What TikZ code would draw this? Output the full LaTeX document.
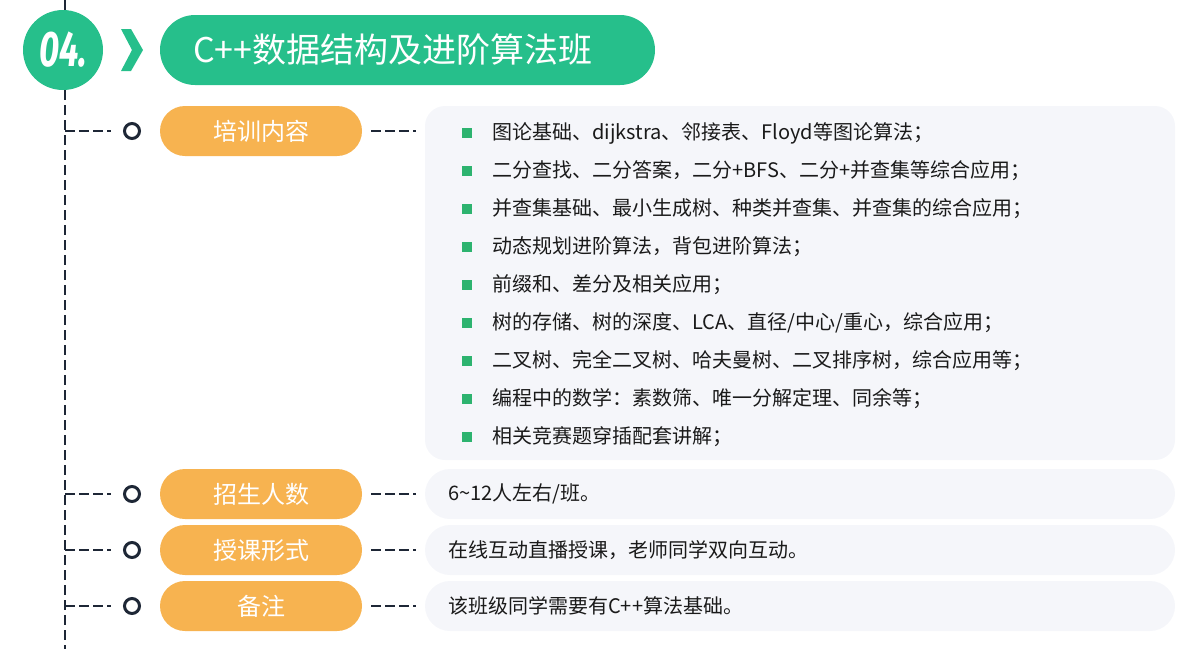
\documentclass[tikz,border=0pt]{standalone}
\usepackage{fontspec}
\usepackage{tikz}
\setmainfont{Noto Sans CJK SC}
\newfontfamily\numfont{Fira Sans}
\usetikzlibrary{positioning}

\definecolor{mintgreen}{HTML}{26BF8B}
\definecolor{tagorange}{HTML}{F7B350}
\definecolor{boxgray}{HTML}{F5F6FA}
\definecolor{inkdark}{HTML}{1E2736}
\definecolor{bulletgreen}{HTML}{2DB36F}
\definecolor{textdark}{HTML}{1A1A1A}

\begin{document}
\begin{tikzpicture}[x=1pt, y=-1pt,
    numdot/.style={circle, fill=mintgreen, minimum size=80pt, inner sep=0pt, text=white,
      font=\numfont\bfseries\itshape\fontsize{50}{50}\selectfont},
    titlepill/.style={rectangle, rounded corners=35pt, fill=mintgreen, minimum width=495pt, minimum height=70pt,
      inner xsep=33pt, text width=429pt, align=left, text=white, font=\fontsize{34}{34}\selectfont},
    tagpill/.style={rectangle, rounded corners=25pt, fill=tagorange, minimum width=202pt, minimum height=50pt,
      text=white, font=\fontsize{24}{24}\selectfont},
    ring/.style={circle, draw=inkdark, line width=3pt, minimum size=15pt, inner sep=0pt},
    infobox/.style={rectangle, fill=boxgray, minimum width=750pt},
    bullet/.style={rectangle, fill=bulletgreen, minimum size=10pt, inner sep=0pt},
    itemtext/.style={inner sep=0pt, text=textdark, font=\fontsize{20}{20}\selectfont},
    dashline/.style={inkdark, line width=2pt, dash pattern=on 10pt off 4pt}]

    \useasboundingbox (0,0) rectangle (1200,649);

    % spine
    \coordinate (spinetop) at (65,0);
    \coordinate (spinebot) at (65,649);
    \draw[dashline, dash pattern=on 10pt off 5pt] (spinetop) -- (spinebot);

    % header
    \node[numdot] (num) at (63,50) {\scalebox{0.7}[1]{04.}};
    \fill[mintgreen] (121,29) -- (131,29) -- (143,50) -- (131,71) -- (121,71) -- (132,50) -- cycle;
    \node[titlepill] (title) at (407.5,50) {C++数据结构及进阶算法班};

    % content boxes
    \node[infobox, rounded corners=20pt, minimum height=354pt] (info1) at (800,283) {};
    \node[infobox, rounded corners=25pt, minimum height=50pt] (info2) at (800,494) {};
    \node[infobox, rounded corners=25pt, minimum height=50pt] (info3) at (800,550) {};
    \node[infobox, rounded corners=25pt, minimum height=50pt] (info4) at (800,606) {};

    % rows
    \foreach \y/\tag/\n in {131/培训内容/1, 494/招生人数/2, 550/授课形式/3, 606/备注/4} {
        \coordinate (s\n) at (65,\y);
        \node[ring] (r\n) at (132,\y) {};
        \node[tagpill] (p\n) at (261,\y) {\tag};
        \draw[dashline, shorten >=12pt] (s\n) -- (r\n);
        \draw[dashline, shorten <=9pt, shorten >=9pt] (p\n.east) -- (p\n.east -| info\n.west);
    }

    % list items
    \foreach \txt [count=\i] in {图论基础、dijkstra、邻接表、Floyd等图论算法；,
        二分查找、二分答案，二分+BFS、二分+并查集等综合应用；,
        并查集基础、最小生成树、种类并查集、并查集的综合应用；,
        动态规划进阶算法，背包进阶算法；,
        前缀和、差分及相关应用；,
        树的存储、树的深度、LCA、直径/中心/重心，综合应用；,
        二叉树、完全二叉树、哈夫曼树、二叉排序树，综合应用等；,
        编程中的数学：素数筛、唯一分解定理、同余等；,
        相关竞赛题穿插配套讲解；} {
        \node[bullet] (b\i) at (467,{95+38*\i}) {};
        \node[itemtext, right=20pt of b\i] (t\i) {\txt};
    }

    % single line texts
    \node[itemtext, anchor=west] (t10) at (448,494) {6\textasciitilde 12人左右/班。};
    \node[itemtext, anchor=west] (t11) at (448,550) {在线互动直播授课，老师同学双向互动。};
    \node[itemtext, anchor=west] (t12) at (448,606) {该班级同学需要有C++算法基础。};

\end{tikzpicture}
\end{document}
